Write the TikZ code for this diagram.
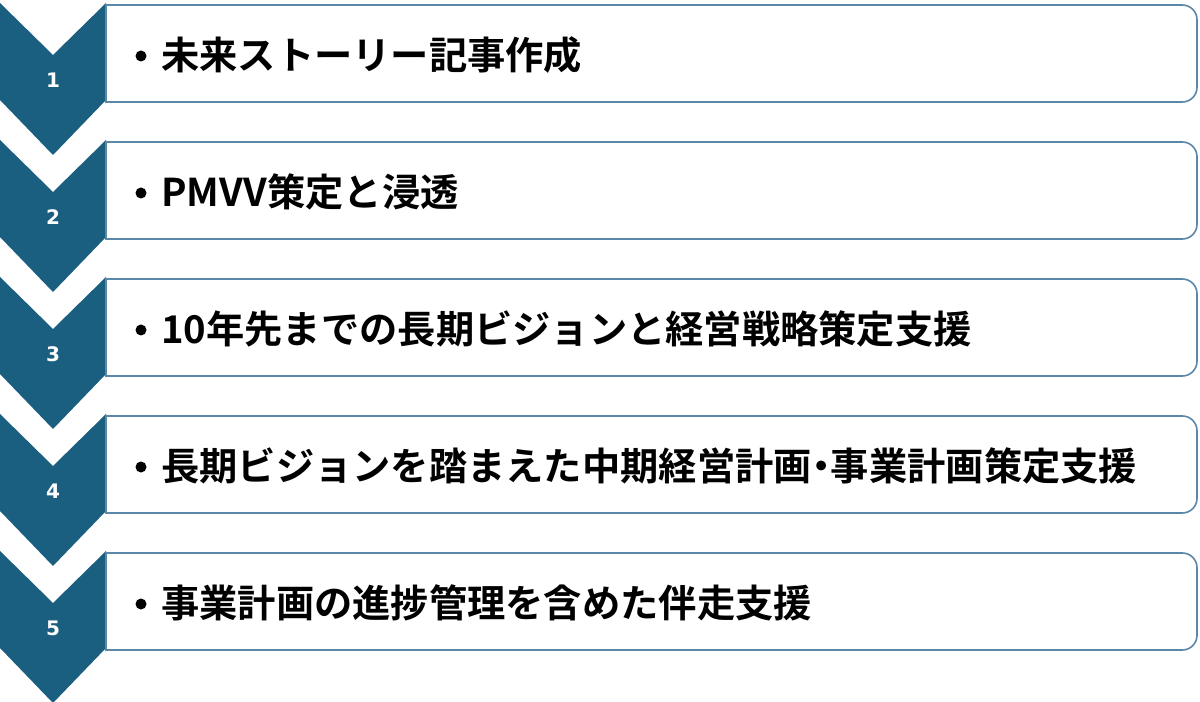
\documentclass[tikz,border=0pt]{standalone}
\usepackage{fontspec}
\newfontfamily\cjk{Noto Sans CJK JP Bold}
\newfontfamily\numf{DejaVu Sans Bold}
\definecolor{chev}{HTML}{1B5F80}
\definecolor{bord}{HTML}{5B87A8}
\tikzset{boxline/.style={draw=bord,line width=1.2pt,fill=white},
 numtxt/.style={text=white,font=\numf\fontsize{15}{18}\selectfont},
 itemtxt/.style={anchor=west,font=\cjk\fontsize{28.7}{32}\selectfont,inner sep=0pt}}
\begin{document}
\begin{tikzpicture}[x=0.75pt,y=-0.75pt]
\useasboundingbox (0,0) rectangle (1200,702);
\foreach \k/\t in {0/{未来ストーリー記事作成},1/{PMVV策定と浸透},2/{10年先までの長期ビジョンと経営戦略策定支援},3/{長期ビジョンを踏まえた中期経営計画\hspace{-0.25em}・\hspace{-0.25em}事業計画策定支援},4/{事業計画の進捗管理を含めた伴走支援}}{
 \pgfmathsetmacro\o{137*\k}
 \fill[chev] (0,3+\o) -- (53,55+\o) -- (106,3+\o) -- (106,100+\o) -- (53,155+\o) -- (0,100+\o) -- cycle;
 \node[numtxt] (n\k) at (53,80+\o) {\the\numexpr\k+1\relax};
 \draw[boxline] (106,102+\o) -- (106,5+\o) [rounded corners=11pt] -- (1197,5+\o) -- (1197,102+\o) [sharp corners] -- cycle;
 \fill (141,56+\o) circle[radius=5.5];
 \node[itemtxt] (t\k) at (161,55+\o) {\t};
}
\end{tikzpicture}
\end{document}
